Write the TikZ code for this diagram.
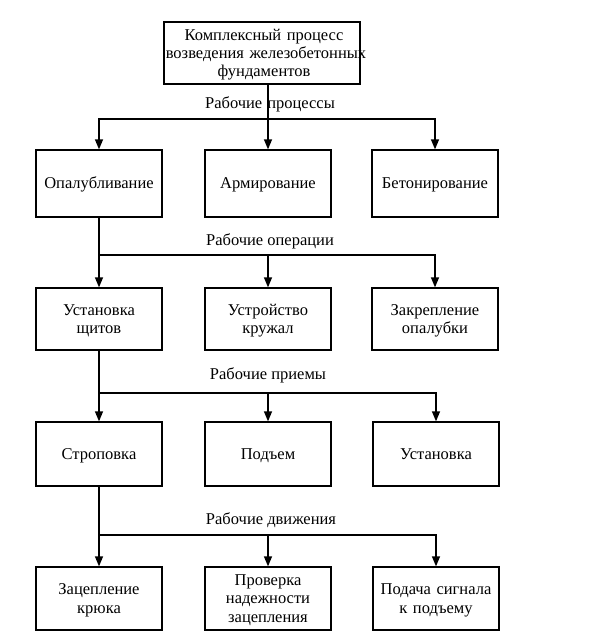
\documentclass[tikz,border=0pt]{standalone}
\usepackage{fontspec}
\setmainfont{Liberation Serif}
\usetikzlibrary{arrows.meta}
\newcommand\bxtop{\rule{0pt}{14.9pt}}
\newcommand\bxbot{\rule[-4pt]{0pt}{4pt}}
\begin{document}
\begin{tikzpicture}[x=1pt,y=-1pt,
  box/.style={draw,line width=1.3pt,rectangle,align=center,inner xsep=2pt,inner ysep=0pt,
    text width=122pt,minimum width=126pt,font=\fontsize{16.5}{18.3}\selectfont,
    execute at begin node=\bxtop,execute at end node=\bxbot},
  lbl/.style={inner sep=1pt,font=\fontsize{16.5}{18.3}\selectfont},
  arr/.style={line width=1.3pt,-{Triangle[length=10pt,width=8pt]}}]
\useasboundingbox[fill=white] (0,0) rectangle (589,637);
% nodes
\node[box,text width=196pt,minimum width=196pt,minimum height=62pt,inner xsep=0pt] (top) at (262,53)
  {\hspace*{4pt}Комплексный процесс\\\makebox[190pt][c]{\hspace*{8pt}возведения железобетонных}\\\hspace*{4pt}фундаментов};
\node[box,minimum height=67pt] (a1) at (99,183.5) {Опалубливание};
\node[box,minimum height=67pt] (a2) at (268,183.5) {Армирование};
\node[box,minimum height=67pt] (a3) at (435,183.5) {Бетонирование};
\node[box,minimum height=62pt] (b1) at (99,319) {Установка\\щитов};
\node[box,minimum height=62pt] (b2) at (268,319) {Устройство\\кружал};
\node[box,minimum height=62pt] (b3) at (435,319) {Закрепление\\опалубки};
\node[box,minimum height=64pt] (c1) at (99,454) {Строповка};
\node[box,minimum height=64pt] (c2) at (268,454) {Подъем};
\node[box,minimum height=64pt] (c3) at (436,454) {Установка};
\node[box,minimum height=63pt] (d1) at (99,598.5) {Зацепление\\крюка};
\node[box,minimum height=63pt] (d2) at (268,598.5) {Проверка\\надежности\\зацепления};
\node[box,minimum height=63pt] (d3) at (436,598.5) {Подача сигнала\\к подъему};
% labels
\node[lbl] (l1) at (270,104) {Рабочие\hspace{5pt}процессы};
\node[lbl] (l2) at (270,241) {Рабочие операции};
\node[lbl] (l3) at (268,375) {Рабочие приемы};
\node[lbl] (l4) at (271,520) {Рабочие движения};
% junction coordinates
\coordinate (j1) at (268,119);
\coordinate (j2) at (99,255);
\coordinate (j3) at (99,393);
\coordinate (j4) at (99,535);
% level 1
\draw[arr] (a2.north |- top.south) -- (a2.north);
\draw[arr] (j1) -| (a1.north);
\draw[arr] (j1) -| (a3.north);
% level 2
\draw[arr] (a1.south) -- (b1.north);
\draw[arr] (j2) -| (b3.north);
\draw[arr] (b2.north |- j2) -- (b2.north);
% level 3
\draw[arr] (b1.south) -- (c1.north);
\draw[arr] (j3) -| (c3.north);
\draw[arr] (c2.north |- j3) -- (c2.north);
% level 4
\draw[arr] (c1.south) -- (d1.north);
\draw[arr] (j4) -| (d3.north);
\draw[arr] (d2.north |- j4) -- (d2.north);
\end{tikzpicture}
\end{document}
